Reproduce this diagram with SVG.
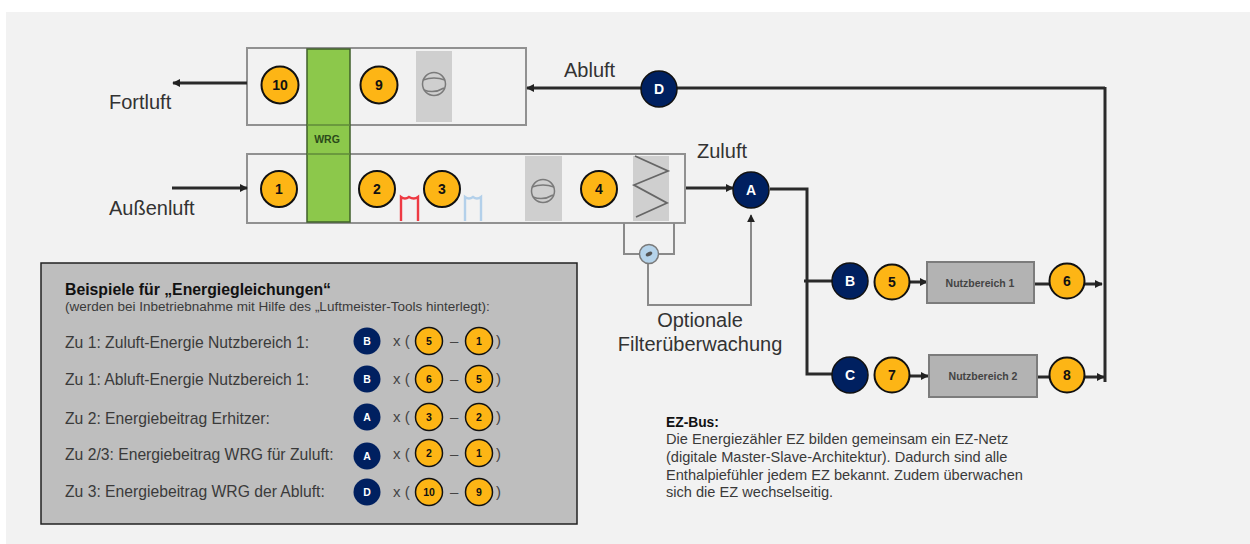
<svg xmlns="http://www.w3.org/2000/svg" width="1250" height="544" viewBox="0 0 1250 544">
<style>
text{font-family:"Liberation Sans",Arial,sans-serif}
.lbl{font-size:20px;fill:#333}
.o{fill:#fdb515;stroke:#111;stroke-width:2}
.n{fill:#002060;stroke:#111;stroke-width:1.5}
.ot{font-size:14px;font-weight:700;fill:#111;text-anchor:middle}
.nt{font-size:14px;font-weight:700;fill:#fff;text-anchor:middle}
.os{fill:#fdb515;stroke:#111;stroke-width:1.5}
.nsm{fill:#002060}
.ots{font-size:10.5px;font-weight:700;fill:#111;text-anchor:middle}
.nts{font-size:10.5px;font-weight:700;fill:#fff;text-anchor:middle}
.eq{font-size:15.7px;fill:#3a3a3a}
.sym{font-size:15px;fill:#444}
.thick{fill:none;stroke:#2a2a2a;stroke-width:3}
.thin{fill:none;stroke:#8a8a8a;stroke-width:2}
.body{fill:#f2f2f2;stroke:#919191;stroke-width:2}
.fan{fill:none;stroke:#7a7a7a;stroke-width:1.5}
.nb{fill:#b3b3b3;stroke:#7c7c7c;stroke-width:2}
.nbt{font-size:10.5px;font-weight:700;fill:#444;text-anchor:middle}
.bus{font-size:14.6px;fill:#3a3a3a}
</style>
<defs>
<marker id="arr" viewBox="0 0 10 10" refX="9" refY="5" markerWidth="8" markerHeight="8" markerUnits="userSpaceOnUse" orient="auto"><path d="M0 0L10 5L0 10Z" fill="#222"/></marker>
</defs>
<rect width="1250" height="544" fill="#fff"/>
<rect x="6" y="12" width="1244" height="532" fill="#f2f2f2"/>

<g id="ahu-upper">
<rect class="body" x="247" y="48" width="279" height="77"/>
<rect x="416" y="51" width="36" height="71" fill="#cfcfcf"/>
<circle class="fan" cx="434" cy="84" r="11.5"/>
<path class="fan" d="M423 80Q434 76 445 80M424 90Q434 94 444 88"/>
</g>
<g id="ahu-lower">
<rect class="body" x="247" y="154" width="438" height="69"/>
<rect x="525" y="156" width="37" height="65" fill="#cfcfcf"/>
<circle class="fan" cx="543" cy="191" r="11.5"/>
<path class="fan" d="M532 187Q543 183 554 187M533 197Q543 201 553 195"/>
<rect x="633" y="156" width="36" height="65" fill="#cfcfcf"/>
<path d="M635 156L668 171L634 185L667 203L636 217" fill="none" stroke="#666" stroke-width="1.8"/>
<path d="M401 221V197Q405 200 409 197Q414 200 418 197V221" fill="none" stroke="#ee3a43" stroke-width="2.4"/>
<path d="M465 221V197Q469 200 473 197Q477 200 481 197V221" fill="none" stroke="#b3d0ea" stroke-width="2.4"/>
</g>
<g id="wrg">
<rect x="307" y="49" width="43" height="173" fill="#8cc84b" stroke="#3f5f2a" stroke-width="1.5"/>
<path d="M307 125H350M307 154H350" stroke="#5f8a3a" stroke-width="1.5"/>
<text x="327" y="143" font-size="10.5" font-weight="700" fill="#2b4a1a" text-anchor="middle">WRG</text>
</g>

<g id="connectors">
<path class="thick" d="M247 83H173" marker-end="url(#arr)"/>
<path class="thick" d="M172 188H247" marker-end="url(#arr)"/>
<path class="thick" d="M1105 88H527" marker-end="url(#arr)"/>
<path class="thick" d="M1105 87V382"/>
<path class="thick" d="M686 188H733" marker-end="url(#arr)"/>
<path class="thick" d="M770 189H807V374H833"/>
<path class="thick" d="M804 281H833"/>
<path class="thick" d="M908 282H927" marker-end="url(#arr)"/>
<path class="thick" d="M908 376H928" marker-end="url(#arr)"/>
<path class="thick" d="M1034 284H1050"/>
<path class="thick" d="M1084 284H1102" marker-end="url(#arr)"/>
<path class="thick" d="M1036 377H1050"/>
<path class="thick" d="M1084 377H1104" marker-end="url(#arr)"/>
<path class="thin" d="M624 223V254H674V223"/>
<path class="thin" d="M648 254V305H751V215" marker-end="url(#arr)"/>
</g>

<g id="filter-sensor"><circle cx="649" cy="254" r="9.5" fill="#b5d3ea" stroke="#7a7a7a" stroke-width="1.5"/><ellipse cx="649" cy="254" rx="3.5" ry="2" fill="#555" transform="rotate(-25 649 254)"/></g>
<g id="nutz1"><rect class="nb" x="927" y="262" width="107" height="41"/><text class="nbt" x="980" y="287">Nutzbereich 1</text></g>
<g id="nutz2"><rect class="nb" x="929" y="355" width="108" height="42"/><text class="nbt" x="983" y="380">Nutzbereich 2</text></g>

<g id="s10"><circle class="o" cx="280" cy="85" r="18.5"/><text class="ot" x="280" y="90">10</text></g>
<g id="s9"><circle class="o" cx="379" cy="85" r="18.5"/><text class="ot" x="379" y="90">9</text></g>
<g id="s1"><circle class="o" cx="279" cy="189" r="18"/><text class="ot" x="279" y="194">1</text></g>
<g id="s2"><circle class="o" cx="377" cy="189" r="18"/><text class="ot" x="377" y="194">2</text></g>
<g id="s3"><circle class="o" cx="442" cy="189" r="18"/><text class="ot" x="442" y="194">3</text></g>
<g id="s4"><circle class="o" cx="599" cy="189" r="18"/><text class="ot" x="599" y="194">4</text></g>
<g id="s5"><circle class="o" cx="892" cy="282" r="17.5"/><text class="ot" x="892" y="287">5</text></g>
<g id="s6"><circle class="o" cx="1067" cy="281" r="17.5"/><text class="ot" x="1067" y="286">6</text></g>
<g id="s7"><circle class="o" cx="892" cy="375" r="17.5"/><text class="ot" x="892" y="380">7</text></g>
<g id="s8"><circle class="o" cx="1067" cy="375" r="17.5"/><text class="ot" x="1067" y="380">8</text></g>
<g id="sD"><circle class="n" cx="659" cy="89" r="18"/><text class="nt" x="659" y="94">D</text></g>
<g id="sA"><circle class="n" cx="751" cy="190" r="18"/><text class="nt" x="751" y="195">A</text></g>
<g id="sB"><circle class="n" cx="850" cy="281" r="18"/><text class="nt" x="850" y="286">B</text></g>
<g id="sC"><circle class="n" cx="850" cy="375" r="18"/><text class="nt" x="850" y="380">C</text></g>

<g id="labels">
<text class="lbl" x="109" y="109">Fortluft</text>
<text class="lbl" x="109" y="215">Außenluft</text>
<text class="lbl" x="564" y="77">Abluft</text>
<text class="lbl" x="697" y="158">Zuluft</text>
<text class="lbl" x="700" y="327" text-anchor="middle">Optionale</text>
<text class="lbl" x="700" y="351" text-anchor="middle">Filterüberwachung</text>
</g>

<g id="legend">
<rect x="41" y="263" width="536" height="261" fill="#bebebe" stroke="#222" stroke-width="1.5"/>
<text x="65" y="295" font-size="15.8" font-weight="700" fill="#111">Beispiele für „Energiegleichungen“</text>
<text x="65" y="311" font-size="13.5" fill="#3a3a3a">(werden bei Inbetriebnahme mit Hilfe des „Luftmeister-Tools hinterlegt):</text>
<text class="eq" x="65" y="348">Zu 1: Zuluft-Energie Nutzbereich 1:</text>
<text class="eq" x="65" y="385">Zu 1: Abluft-Energie Nutzbereich 1:</text>
<text class="eq" x="65" y="424">Zu 2: Energiebeitrag Erhitzer:</text>
<text class="eq" x="65" y="460">Zu 2/3: Energiebeitrag WRG für Zuluft:</text>
<text class="eq" x="65" y="497">Zu 3: Energiebeitrag WRG der Abluft:</text>

<circle class="nsm" cx="367" cy="341" r="13.5"/><text class="nts" x="367" y="345">B</text>
<circle class="nsm" cx="367" cy="379" r="13.5"/><text class="nts" x="367" y="383">B</text>
<circle class="nsm" cx="367" cy="417" r="13.5"/><text class="nts" x="367" y="421">A</text>
<circle class="nsm" cx="367" cy="456" r="13.5"/><text class="nts" x="367" y="460">A</text>
<circle class="nsm" cx="367" cy="492" r="13.5"/><text class="nts" x="367" y="496">D</text>

<text class="sym" x="393" y="346">x (</text>
<text class="sym" x="393" y="384">x (</text>
<text class="sym" x="393" y="422">x (</text>
<text class="sym" x="393" y="459">x (</text>
<text class="sym" x="393" y="497">x (</text>

<circle class="os" cx="429" cy="341" r="13.5"/><text class="ots" x="429" y="345">5</text>
<circle class="os" cx="429" cy="379" r="13.5"/><text class="ots" x="429" y="383">6</text>
<circle class="os" cx="429" cy="417" r="13.5"/><text class="ots" x="429" y="421">3</text>
<circle class="os" cx="429" cy="453" r="13.5"/><text class="ots" x="429" y="457">2</text>
<circle class="os" cx="429" cy="492" r="13.5"/><text class="ots" x="429" y="496">10</text>

<text class="sym" x="450" y="346">–</text>
<text class="sym" x="450" y="384">–</text>
<text class="sym" x="450" y="422">–</text>
<text class="sym" x="450" y="459">–</text>
<text class="sym" x="450" y="497">–</text>

<circle class="os" cx="479" cy="341" r="13.5"/><text class="ots" x="479" y="345">1</text>
<circle class="os" cx="479" cy="379" r="13.5"/><text class="ots" x="479" y="383">5</text>
<circle class="os" cx="479" cy="417" r="13.5"/><text class="ots" x="479" y="421">2</text>
<circle class="os" cx="479" cy="453" r="13.5"/><text class="ots" x="479" y="457">1</text>
<circle class="os" cx="479" cy="492" r="13.5"/><text class="ots" x="479" y="496">9</text>

<text class="sym" x="496" y="346">)</text>
<text class="sym" x="496" y="384">)</text>
<text class="sym" x="496" y="422">)</text>
<text class="sym" x="496" y="459">)</text>
<text class="sym" x="496" y="497">)</text>
</g>

<g id="ez-bus">
<text x="666" y="427" font-size="13.8" font-weight="700" fill="#111">EZ-Bus:</text>
<text class="bus" x="666" y="444">Die Energiezähler EZ bilden gemeinsam ein EZ-Netz</text>
<text class="bus" x="666" y="462">(digitale Master-Slave-Architektur). Dadurch sind alle</text>
<text class="bus" x="666" y="480">Enthalpiefühler jedem EZ bekannt. Zudem überwachen</text>
<text class="bus" x="666" y="497">sich die EZ wechselseitig.</text>
</g>
</svg>
